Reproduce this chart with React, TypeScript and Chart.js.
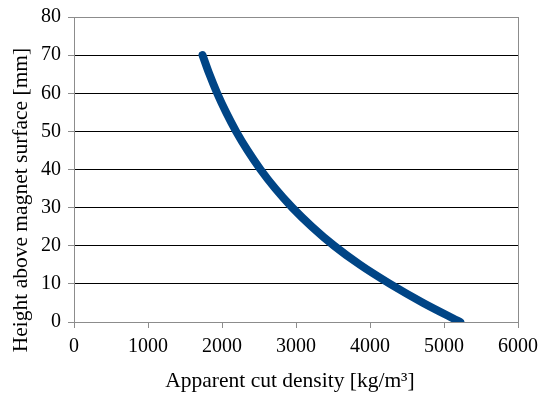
import React, { useEffect, useRef } from "react";
import { Chart, registerables } from "chart.js";

Chart.register(...registerables);

const heights = [70, 65, 60, 55, 50, 45, 40, 35, 30, 25, 20, 15, 10, 5, 0];
const densities = [1737, 1830, 1935, 2055, 2190, 2345, 2520, 2720, 2950, 3215, 3515, 3865, 4270, 4720, 5220];
const xTitle = "Apparent cut density [kg/m³]";
const yTitle = "Height above magnet surface [mm]";

const FAMILY = "'Liberation Serif', 'Times New Roman', serif";

const decorPlugin = {
  id: "decor",
  afterDraw(chart: any) {
    const { ctx, chartArea } = chart;
    ctx.save();
    ctx.strokeStyle = "#8c8c8c";
    ctx.lineWidth = 1;
    ctx.strokeRect(
      Math.round(chartArea.left) + 0.5,
      Math.round(chartArea.top) + 0.5,
      Math.round(chartArea.right - chartArea.left),
      Math.round(chartArea.bottom - chartArea.top)
    );
    ctx.fillStyle = "#000";
    ctx.font = `21.5px ${FAMILY}`;
    ctx.textAlign = "center";
    ctx.textBaseline = "alphabetic";
    ctx.fillText(xTitle, 290, 387);
    ctx.translate(27, 200);
    ctx.rotate(-Math.PI / 2);
    ctx.fillText(yTitle, 0, 0);
    ctx.restore();
  },
};

export default function App() {
  const ref = useRef<HTMLCanvasElement | null>(null);
  useEffect(() => {
    document.body.style.margin = "0";
    const chart = new Chart(ref.current!, {
      type: "line",
      data: {
        datasets: [
          {
            data: densities.map((d, i) => ({ x: d, y: heights[i] })),
            borderColor: "#004586",
            borderWidth: 8,
            borderCapStyle: "round",
            borderJoinStyle: "round",
            pointRadius: 0,
            cubicInterpolationMode: "monotone",
            fill: false,
          },
        ],
      },
      options: {
        animation: false,
        responsive: false,
        maintainAspectRatio: false,
        layout: { padding: { top: 17, left: 34, right: 0, bottom: 38 } },
        plugins: { legend: { display: false }, tooltip: { enabled: false } },
        scales: {
          x: {
            type: "linear",
            min: 0,
            max: 6000,
            ticks: {
              stepSize: 1000,
              color: "#000",
              font: { family: FAMILY, size: 20, lineHeight: 1.9 },
              padding: 0,
              maxRotation: 0,
              callback: (v: any) => String(v),
            },
            grid: { drawOnChartArea: false, drawTicks: true, tickLength: 6, color: "#8c8c8c" },
            border: { color: "#8c8c8c" },
          },
          y: {
            type: "linear",
            min: 0,
            max: 80,
            ticks: {
              stepSize: 10,
              color: "#000",
              font: { family: FAMILY, size: 20, lineHeight: 1.0 },
              padding: 7,
              callback: (v: any) => String(v),
            },
            grid: {
              color: (c: any) => (c.tick && c.tick.value === 80 ? "#8c8c8c" : "#000"),
              tickColor: "#8c8c8c",
              tickLength: 6,
            },
            border: { color: "#8c8c8c" },
          },
        },
      },
      plugins: [decorPlugin],
    });
    return () => chart.destroy();
  }, []);
  return (
    <div style={{ width: 538, height: 404 }}>
      <canvas ref={ref} width={538} height={404} style={{ display: "block" }} />
    </div>
  );
}
